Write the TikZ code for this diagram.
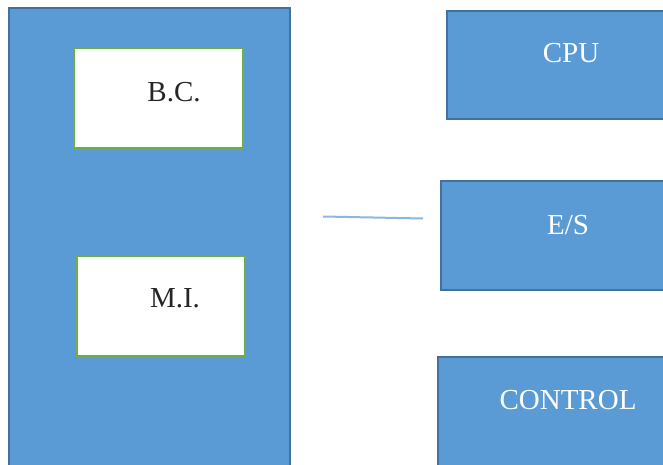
\documentclass[tikz,border=0pt]{standalone}
\usepackage{fontspec}
\setmainfont{Liberation Serif}
\definecolor{boxblue}{HTML}{5B9BD5}
\definecolor{boxedge}{HTML}{41719C}
\definecolor{leafgreen}{HTML}{70AD47}
\definecolor{linkblue}{HTML}{8DB6E2}
\begin{document}
\begin{tikzpicture}[x=1pt,y=-1pt,
  bluebox/.style={draw=boxedge,fill=boxblue,line width=1.8pt,anchor=north west,inner sep=0pt},
  whitebox/.style={draw=leafgreen,fill=white,line width=1.8pt,anchor=north west,inner sep=0pt},
  darklabel/.style={font=\fontsize{29}{32}\selectfont,text=black!85,inner sep=0pt},
  lightlabel/.style={font=\fontsize{29}{32}\selectfont,text=white,inner sep=0pt}]
  \clip (0,0) rectangle (663,465);
  \fill[white] (0,0) rectangle (663,465);
  % main block on the left
  \node[bluebox,minimum width=281pt,minimum height=490pt] (main) at (8,7) {};
  \node[whitebox,minimum width=169pt,minimum height=100pt] (bc) at (73,47) {};
  \node[darklabel] (bctext) at (174,92) {B.C.};
  \node[whitebox,minimum width=168pt,minimum height=100pt] (mi) at (76,255) {};
  \node[darklabel] (mitext) at (175,298) {M.I.};
  % units on the right
  \node[bluebox,minimum width=260pt,minimum height=108pt] (cpu) at (446,10) {};
  \node[lightlabel] (cputext) at (571,53) {CPU};
  \node[bluebox,minimum width=260pt,minimum height=109pt] (es) at (440,180) {};
  \node[lightlabel] (estext) at (568,225) {E/S};
  \node[bluebox,minimum width=260pt,minimum height=130pt] (ctrl) at (437,356) {};
  \node[lightlabel] (ctrltext) at (568,400) {CONTROL};
  % short link stroke
  \coordinate (linkA) at (323,216.5);
  \coordinate (linkB) at (423,218.5);
  \draw[linkblue,line width=2pt] (linkA) -- (linkB);
\end{tikzpicture}
\end{document}
